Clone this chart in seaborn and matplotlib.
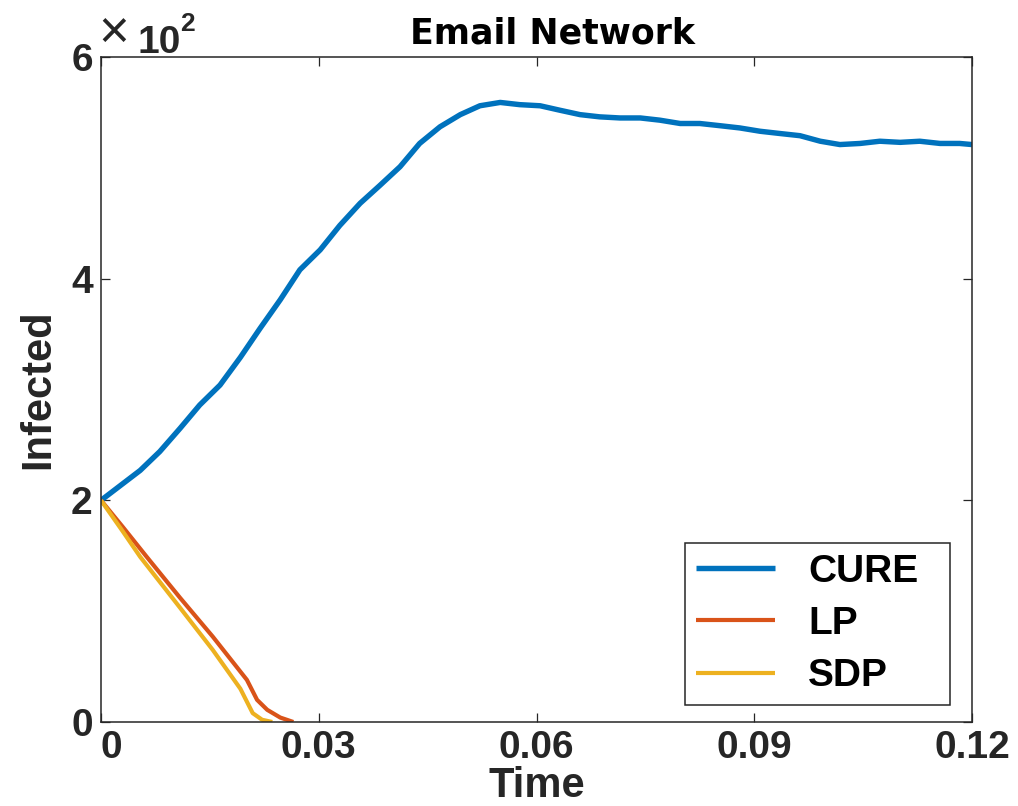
import matplotlib
matplotlib.use("Agg")
import matplotlib.pyplot as plt
import seaborn as sns
import pandas as pd

# ---------------- data ----------------
cure_t = [0.0, 0.0026, 0.0054, 0.0081, 0.0109, 0.0136, 0.0164, 0.0192, 0.0219,
          0.0247, 0.0274, 0.0302, 0.0329, 0.0357, 0.0384, 0.0412, 0.0439, 0.0467,
          0.0495, 0.0522, 0.0550, 0.0577, 0.0605, 0.0632, 0.0660, 0.0687, 0.0715,
          0.0743, 0.0770, 0.0798, 0.0825, 0.0853, 0.0880, 0.0908, 0.0935, 0.0963,
          0.0991, 0.1018, 0.1046, 0.1073, 0.1101, 0.1128, 0.1156, 0.1183, 0.1200]
cure_v = [200, 213, 227, 244, 265, 286, 304, 329, 355,
          381, 408, 426, 448, 468, 484, 501, 522, 537,
          548, 556, 559, 557, 556, 552, 548, 546, 545,
          545, 543, 540, 540, 538, 536, 533, 531, 529,
          524, 521, 522, 524, 523, 524, 522, 522, 521]

lp_t = [0.0, 0.0030, 0.0063, 0.0109, 0.0154, 0.0201, 0.0215, 0.0229, 0.0247, 0.0265]
lp_v = [200, 176, 149, 112, 77, 38, 20, 11, 4, 0]

sdp_t = [0.0, 0.0030, 0.0054, 0.0109, 0.0154, 0.0192, 0.0209, 0.0222, 0.0236]
sdp_v = [200, 172, 149, 103, 65, 30, 8, 2, 0]

series_names = ["CURE", "LP", "SDP"]
series_colors = ["#0072BD", "#D95319", "#EDB120"]

x_ticks = [0, 0.03, 0.06, 0.09, 0.12]
x_tick_labels = ["0", "0.03", "0.06", "0.09", "0.12"]
y_ticks = [0, 200, 400, 600]
y_scale_exp = 2

title_text = "Email Network"
x_label = "Time"
y_label = "Infected"

# ---------------- plotting ----------------
sns.set_theme(style="ticks")
plt.rcParams["font.family"] = ["Liberation Sans", "DejaVu Sans"]
plt.rcParams["font.weight"] = "bold"

fig = plt.figure(figsize=(10.18, 8.06), dpi=100)
ax = fig.add_axes([101 / 1018, 1 - 722 / 806, 871 / 1018, 665 / 806])

frames = []
for name, t, v in [("CURE", cure_t, cure_v), ("LP", lp_t, lp_v), ("SDP", sdp_t, sdp_v)]:
    frames.append(pd.DataFrame({"Time": t, "Infected": v, "Method": name}))
df = pd.concat(frames, ignore_index=True)

widths = {"CURE": 3.9, "LP": 3.0, "SDP": 3.0}
for name, col in zip(series_names, series_colors):
    sns.lineplot(data=df[df["Method"] == name], x="Time", y="Infected",
                 color=col, linewidth=widths[name], label=name, ax=ax,
                 estimator=None, sort=False, solid_joinstyle="round",
                 solid_capstyle="butt")

ax.set_xlim(x_ticks[0], x_ticks[-1])
ax.set_ylim(y_ticks[0], y_ticks[-1])
ax.set_xticks(x_ticks)
ax.set_xticklabels(x_tick_labels)
ax.set_yticks(y_ticks)
ax.set_yticklabels([f"{v / 10 ** y_scale_exp:g}" for v in y_ticks])

edge = "#262626"
for s in ax.spines.values():
    s.set_visible(True)
    s.set_color(edge)
    s.set_linewidth(1.1)
ax.tick_params(direction="in", top=True, right=True, length=6.5, width=0.9,
               color=edge, labelsize=28, labelcolor=edge, pad=6)
for lab in ax.get_xticklabels() + ax.get_yticklabels():
    lab.set_fontweight("bold")
xl = ax.get_xticklabels()
xl[0].set_horizontalalignment("left")

ax.set_xlabel(x_label, fontsize=30, fontweight="bold", color=edge, labelpad=0)
ax.set_ylabel(y_label, fontsize=30, fontweight="bold", color=edge, labelpad=9)
ax.set_title(title_text, fontsize=25, fontweight="bold", color="black",
             family=["DejaVu Sans"], pad=10)
ax.title.set_x((553 - 101) / 871)

# exponent label (x10^2)
fig.text(114 / 1018, 1 - 34.5 / 806, "\u00d7", fontsize=38, fontweight="normal",
         color=edge, ha="center", va="center")
fig.text(137 / 1018, 1 - 53 / 806, "10", fontsize=28, fontweight="bold",
         color=edge, ha="left", va="baseline")
fig.text(180 / 1018, 1 - 31 / 806, f"{y_scale_exp}", fontsize=19, fontweight="bold",
         color=edge, ha="left", va="baseline")

leg = ax.legend(loc="upper left",
                bbox_to_anchor=(685 / 1018, 1 - 702 / 806, 265 / 1018, 159 / 806),
                bbox_transform=fig.transFigure, mode="expand", borderaxespad=0,
                fancybox=False, framealpha=1, edgecolor=edge,
                prop={"size": 28, "weight": "bold"},
                handlelength=2.05, handletextpad=0.85, borderpad=0.27,
                labelspacing=0.42)
leg.get_frame().set_linewidth(1.1)
for txt in leg.get_texts():
    txt.set_color("black")

fig.savefig("out.png", dpi=100, facecolor="white")
